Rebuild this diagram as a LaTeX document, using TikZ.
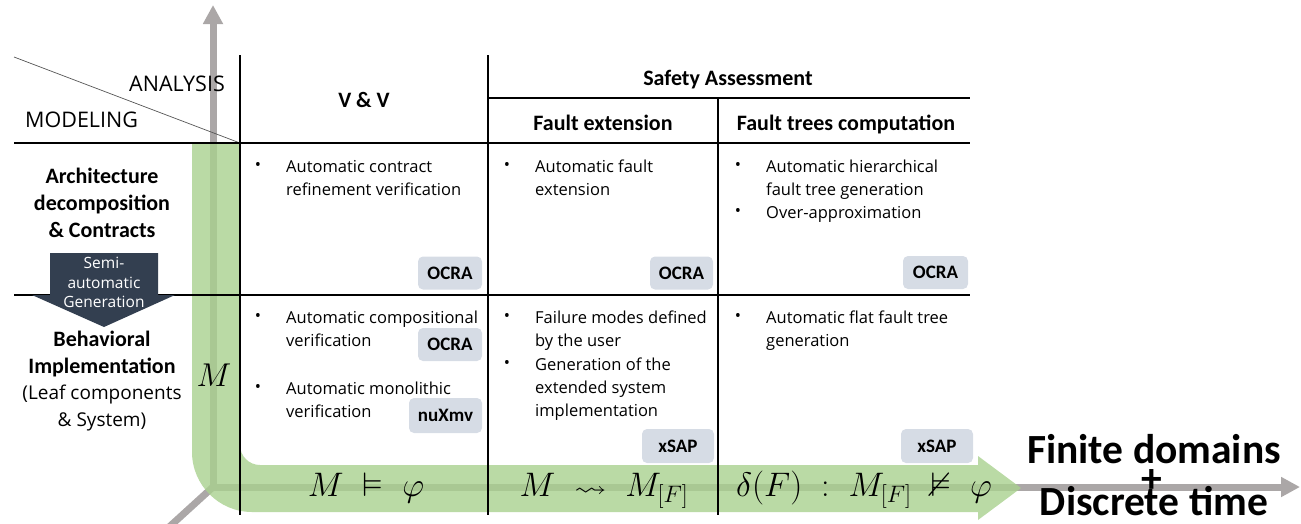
\RequirePackage{fix-cm}
\documentclass[tikz,border=0pt]{standalone}
\usepackage{amssymb}
\usepackage{graphicx}
\usepackage{fontspec}
\setmainfont{Open Sans}
\newfontfamily\calib{Carlito}
\usetikzlibrary{arrows.meta}
\definecolor{axgray}{HTML}{ABA7A7}
\definecolor{bandgreen}{HTML}{A9D18E}
\definecolor{toolfill}{HTML}{D6DCE5}
\definecolor{slate}{HTML}{333F50}
\definecolor{diaggray}{HTML}{555555}

\begin{document}
\begin{tikzpicture}[x=1pt,y=-1pt,
  axis/.style={draw=axgray, line width=7pt},
  gridline/.style={line width=1.4pt, black},
  head/.style={font=\calib\bfseries\fontsize{22}{27}\selectfont, inner sep=0pt, anchor=base},
  rowlabel/.style={font=\calib\bfseries\fontsize{22}{27}\selectfont, inner sep=0pt, anchor=north, align=center},
  body/.style={font=\fontsize{16.5}{23.3}\selectfont, inner sep=0pt, anchor=north west, align=left},
  bul/.style={font=\fontsize{16.5}{23.3}\selectfont, inner sep=0pt},
  tool/.style={fill=toolfill, rounded corners=5pt, inner sep=0pt, minimum height=33pt,
    font=\calib\bfseries\fontsize{19}{20}\selectfont},
  formula/.style={font=\fontsize{34}{36}\selectfont, inner sep=0pt, anchor=base},
  bigtext/.style={font=\calib\bfseries\fontsize{41.5}{44}\selectfont, inner sep=0pt},
]
\useasboundingbox (0,0) rectangle (1301,523);

% axes
\coordinate (orig) at (213,487);
\coordinate (ytip) at (213,5);
\coordinate (xtip) at (1300,487);
\coordinate (zend) at (168,528);
\draw[axis] (orig) -- (zend);
\draw[axis, -{Triangle[width=19pt,length=19pt]}] (orig) -- (ytip);
\draw[axis, -{Triangle[width=19pt,length=19pt]}] (orig) -- (xtip);

% green L-shaped band with arrow head
\fill[bandgreen, fill opacity=0.8]
  (192,143) -- (192,452) .. controls (192,485) and (219,512) .. (252,512)
  -- (978,512) -- (978,520) -- (1021,488) -- (978,456) -- (978,465)
  -- (260,465) .. controls (249,465) and (240,456) .. (240,445)
  -- (240,143) -- cycle;

% table grid
\draw[diaggray, line width=0.7pt] (14,57) -- (240,143);
\draw[gridline] (240,55) -- (240,515);
\draw[gridline] (488,55) -- (488,515);
\draw[gridline] (718,98) -- (718,515);
\draw[gridline] (488,98) -- (970,98);
\draw[gridline] (14,143) -- (970,143);
\draw[gridline] (14,295) -- (970,295);

% corner labels
\node[font=\fontsize{21.5}{24}\selectfont, inner sep=0pt, anchor=base east] (analysis) at (225,91) {ANALYSIS};
\node[font=\fontsize{21.5}{24}\selectfont, inner sep=0pt, anchor=base west] (modeling) at (25,127) {MODELING};

% column headers
\node[head] (vv) at (364,107) {V \& V};
\node[head] (safety) at (728,85) {Safety Assessment};
\node[head] (faultext) at (603,130) {Fault extension};
\node[head] (ftc) at (846,130) {Fault trees computation};

% row labels
\node[rowlabel] (arch) at (102,164.1) {\strut Architecture\\decomposition\\\& Contracts};
\node[rowlabel] (behav) at (102,327.1) {\strut Behavioral\\Implementation};
\node[font=\fontsize{19}{27}\selectfont, inner sep=0pt, anchor=north, align=center] (leaf) at (102,380.1)
  {\strut (Leaf components\\\& System)};

% semi-automatic generation arrow
\fill[slate] (50,253) -- (158,253) -- (158,295) -- (175,295) -- (104,327) -- (32,295) -- (50,295) -- cycle;
\node[font=\fontsize{15.5}{19.5}\selectfont, text=white, inner sep=0pt, anchor=north, align=center] (semi) at (104,254.85)
  {\strut Semi-\\automatic\\Generation};

% model symbol
\node[font=\fontsize{33}{36}\selectfont, inner sep=0pt, anchor=base] (msym) at (214,386) {$M$};

% cells, first row
\node[bul] (b1) at (258,166) {•};
\node[body] (vv1) at (286,155.7) {\strut Automatic contract\\refinement verification};
\node[bul] (b2) at (507,166) {•};
\node[body] (fe1) at (535,155.7) {\strut Automatic fault\\extension};
\node[bul] (b3) at (738,166) {•};
\node[body] (ft1a) at (766,155.7) {\strut Automatic hierarchical\\fault tree generation};
\node[bul] (b4) at (738,212) {•};
\node[body] (ft1b) at (766,201.7) {\strut Over-approximation};

% cells, second row
\node[bul] (b5) at (258,317) {•};
\node[body] (vv2a) at (286,306.7) {\strut Automatic compositional\\verification};
\node[bul] (b6) at (258,388) {•};
\node[body] (vv2b) at (286,377.7) {\strut Automatic monolithic\\verification};
\node[bul] (b7) at (507,317) {•};
\node[body] (fe2a) at (535,306.7) {\strut Failure modes defined\\by the user};
\node[bul] (b8) at (507,364) {•};
\node[body] (fe2b) at (535,353.7) {\strut Generation of the\\extended system\\implementation};
\node[bul] (b9) at (738,317) {•};
\node[body] (ft2) at (766,306.7) {\strut Automatic flat fault tree\\generation};

% tool tags
\node[tool, minimum width=64pt] (ocra1) at (450,273) {OCRA};
\node[tool, minimum width=63pt] (ocra2) at (681.5,273) {OCRA};
\node[tool, minimum width=65pt] (ocra3) at (935.5,272.5) {OCRA};
\node[tool, minimum width=64pt] (ocra4) at (450,344.5) {OCRA};
\node[tool, minimum width=73pt, minimum height=35pt] (nuxmv) at (445.5,415.5) {nuXmv};
\node[tool, minimum width=72pt, minimum height=34pt] (xsap1) at (678,446) {xSAP};
\node[tool, minimum width=72pt, minimum height=34pt] (xsap2) at (937,446) {xSAP};

% formulas on the band
\node[formula] (f1) at (366,496) {$M \;\vDash\; \varphi$};
\node[formula] (f2) at (604,496) {$M \;\mathrel{\scalebox{0.95}[0.7]{$\rightsquigarrow$}}\; M_{[F]}$};
\node[formula] (f3) at (864,496) {$\delta(F) \;:\; M_{[F]} \;\nvDash\; \varphi$};

% domain annotation
\node[bigtext, anchor=base] (finite) at (1154,463) {Finite domains};
\node[bigtext] (plus) at (1152,481) {+};
\node[bigtext, anchor=base] (discrete) at (1154,515) {Discrete time};
\end{tikzpicture}
\end{document}
